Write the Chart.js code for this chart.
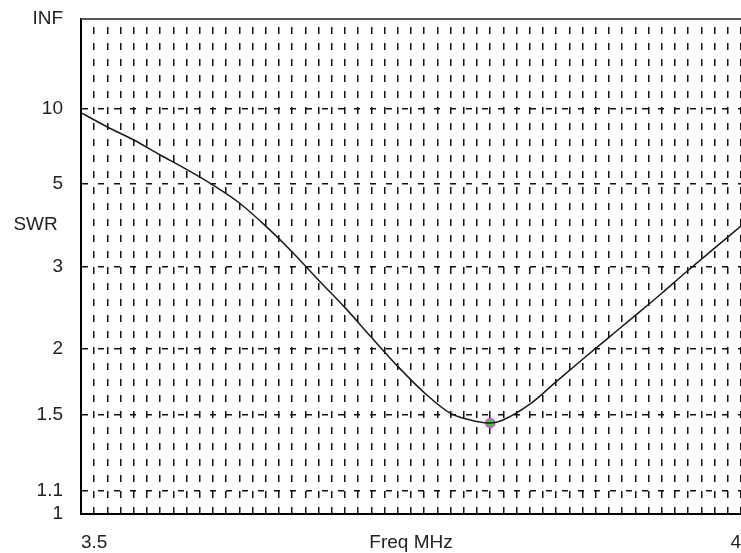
<!DOCTYPE html>
<html>
<head>
<meta charset="utf-8">
<title>SWR</title>
<script src="https://cdn.jsdelivr.net/npm/chart.js"></script>
<style>
  html, body { margin: 0; padding: 0; background: #fff; }
  #containerCanvas { width: 741px; height: 553px; }
</style>
</head>
<body>
<div id="containerCanvas"><canvas id="myChart"></canvas></div>
<script>
// frequency (MHz) and SWR
const freqs = [3.50, 3.52, 3.54, 3.56, 3.58, 3.60, 3.62, 3.64, 3.66, 3.68, 3.70, 3.72, 3.74, 3.76,
               3.78, 3.80, 3.81, 3.82, 3.84, 3.86, 3.88, 3.90, 3.92, 3.94, 3.96, 3.98, 4.00];
const swrValues = [9.57, 8.17, 7.18, 6.28, 5.58, 4.96, 4.38, 3.78, 3.25, 2.79, 2.43, 2.11, 1.85, 1.65,
                   1.51, 1.46, 1.45, 1.47, 1.57, 1.73, 1.91, 2.11, 2.34, 2.61, 2.94, 3.32, 3.78];
// marked minimum
const minFreq = [3.81];
const minSwr = [1.45];

// y axis labels (bottom to top), placed by SWR value
const yTickSwr = [1, 1.1, 1.5, 2, 3, 3.8, 5, 10, Infinity];
const yTickLabels = ["1", "1.1", "1.5", "2", "3", "SWR ", "5", "10", "INF"];
const noGridLabels = ["1", "SWR ", "INF"];

// x axis labels
const xLabelValues = [3.5, 3.75, 4.0];
const xLabelTexts = ["3.5", "Freq MHz", "4"];

// the SWR scale is linear in reflection coefficient
function gamma(s) {
  return s === Infinity ? 1 : (s - 1) / (s + 1);
}

const lineData = freqs.map((f, i) => ({ x: f, y: gamma(swrValues[i]) }));
const minData = minFreq.map((f, i) => ({ x: f, y: gamma(minSwr[i]) }));

const topBorder = {
  id: "topBorder",
  afterDraw(chart) {
    const { ctx, chartArea: a } = chart;
    ctx.save();
    ctx.strokeStyle = "#555";
    ctx.lineWidth = 2;
    ctx.beginPath();
    ctx.moveTo(a.left, a.top);
    ctx.lineTo(a.right, a.top);
    ctx.stroke();
    ctx.restore();
  }
};

Chart.defaults.font.family = "'Liberation Sans', Arial, sans-serif";
Chart.defaults.font.size = 19;
Chart.defaults.color = "#222";

new Chart("myChart", {
  type: "line",
  data: {
    datasets: [
      {
        data: lineData,
        borderColor: "#1a1a1a",
        borderWidth: 1.5,
        pointRadius: 0,
        cubicInterpolationMode: "monotone",
        fill: false
      },
      {
        data: minData,
        showLine: false,
        pointRadius: 4.5,
        pointBackgroundColor: "#22dd22",
        pointBorderColor: "#ff33ff",
        pointBorderWidth: 1.5
      }
    ]
  },
  options: {
    responsive: true,
    maintainAspectRatio: false,
    animation: false,
    layout: { autoPadding: false, padding: { top: 19, right: 0, left: 0, bottom: 0 } },
    scales: {
      x: {
        type: "linear",
        min: 3.5,
        max: 4.0,
        afterFit: (scale) => {
          scale.height = 39;
          scale.paddingLeft = 0;
          scale.paddingRight = 0;
        },
        ticks: {
          stepSize: 0.01,
          autoSkip: false,
          maxRotation: 0,
          align: "inner",
          padding: 17,
          callback: (value) => {
            const k = xLabelValues.findIndex(v => Math.abs(v - value) < 1e-6);
            return k >= 0 ? xLabelTexts[k] : "";
          }
        },
        grid: {
          color: "#111",
          lineWidth: 1.5,
          drawTicks: false
        },
        border: { display: true, color: "#000", width: 2, dash: [7, 9], dashOffset: 8 }
      },
      y: {
        type: "linear",
        min: 0,
        max: 1,
        afterFit: (scale) => {
          scale.width = 81;
          scale.paddingTop = 0;
          scale.paddingBottom = 0;
        },
        afterBuildTicks: (scale) => {
          scale.ticks = yTickSwr.map(s => ({ value: gamma(s) }));
        },
        ticks: {
          autoSkip: false,
          padding: 18,
          callback: (value, index) => yTickLabels[index]
        },
        grid: {
          color: (ctx) => noGridLabels.includes(yTickLabels[ctx.index]) ? "rgba(0,0,0,0)" : "#111",
          lineWidth: 1.5,
          drawTicks: false
        },
        border: { display: true, color: "#000", width: 2, dash: [6, 10], dashOffset: 0 }
      }
    },
    plugins: {
      legend: { display: false },
      tooltip: { enabled: false }
    }
  },
  plugins: [topBorder]
});
</script>
</body>
</html>
